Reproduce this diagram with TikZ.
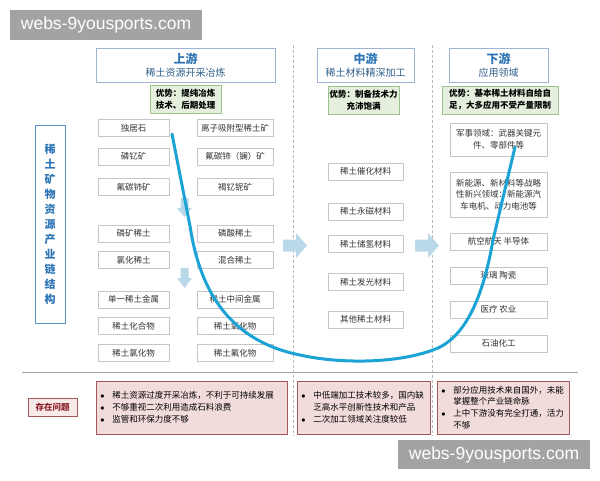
\documentclass[tikz,border=0pt]{standalone}
\usepackage{fontspec}
\setmainfont{Noto Sans CJK SC}
\newfontfamily\wmfont{Liberation Sans}
\usetikzlibrary{positioning}

\definecolor{headline}{HTML}{9DB5D3}
\definecolor{headblue}{HTML}{2E75B6}
\definecolor{subblue}{HTML}{2F5F8A}
\definecolor{advline}{HTML}{9CC28E}
\definecolor{advfill}{HTML}{E4F0DD}
\definecolor{issueline}{HTML}{A5585A}
\definecolor{issuefill}{HTML}{F2DCDB}
\definecolor{issuetext}{HTML}{8B1E2A}
\definecolor{flowblue}{HTML}{B9D8E8}
\definecolor{chainblue}{HTML}{1BA3D6}
\definecolor{wmgray}{HTML}{A3A3A3}

\begin{document}
\begin{tikzpicture}[x=1pt,y=-1pt]
\tikzset{
  item/.style = {draw=gray!45, fill=white, text=black!80, font=\fontsize{8.5}{11.5}\selectfont, minimum height=17pt, inner sep=1pt, align=center},
  head/.style = {draw=headline, fill=white, line width=0.8pt, minimum height=34pt, inner sep=1pt, align=center, font=\fontsize{10}{13}\selectfont, text=subblue},
  adv/.style = {draw=advline, fill=advfill, line width=0.8pt, minimum height=28pt, inner sep=1pt, align=center, font=\bfseries\fontsize{8.5}{12}\selectfont},
  issue/.style = {draw=issueline, fill=issuefill, line width=0.8pt, minimum height=53pt, inner xsep=4pt, inner ysep=1pt, align=left, anchor=west, font=\fontsize{8.5}{11.8}\selectfont},
  flow/.style = {fill=flowblue},
  sep/.style = {draw=gray!55, dash pattern=on 3pt off 2pt, line width=0.6pt},
  chainline/.style = {draw=chainblue, line width=3pt, line cap=round},
  wm/.style = {fill=wmgray, text=white, font=\wmfont\fontsize{17.5}{17.5}\selectfont, inner sep=0pt, minimum width=192pt, minimum height=30pt},
}
\def\colA{133.5}
\def\colB{235}
\def\colM{365.5}
\def\colD{498.5}
\newcommand\bul{\makebox[12pt][l]{$\bullet$}}
\newcommand\ind{\hspace*{12pt}}

\useasboundingbox (0,0) rectangle (600,480);

% separators
\draw[sep] (293,45) -- (293,436);
\draw[sep] (432,45) -- (432,436);
\draw[gray!70, line width=0.9pt] (22,372) -- (578,372);

% headers
\node[head, minimum width=179pt] (up) at (185.5,65) {{\bfseries\fontsize{12}{15}\selectfont\color{headblue}上游}\\稀土资源开采冶炼};
\node[head, minimum width=97pt] (mid) at (365.5,65) {{\bfseries\fontsize{12}{15}\selectfont\color{headblue}中游}\\稀土材料精深加工};
\node[head, minimum width=99pt] (down) at (498.5,65) {{\bfseries\fontsize{12}{15}\selectfont\color{headblue}下游}\\应用领域};

\node[adv, minimum width=71pt] (upadv) at (185.5,99.5) {优势：提纯冶炼\\技术、后期处理};
\node[adv, minimum width=71pt] (midadv) at (363.5,100) {优势：制备技术力\\充沛饱满};
\node[adv, minimum width=116pt] (downadv) at (500,100) {优势：基本稀土材料自给自\\足，大多应用不受产量限制};

% left title
\node[draw=headblue!80, line width=1pt, fill=white, minimum width=30pt, minimum height=198pt, inner sep=0pt,
      align=center, text=headblue, font=\bfseries\fontsize{11}{15}\selectfont] (chain) at (50,224)
  {稀\\土\\矿\\物\\资\\源\\产\\业\\链\\结\\构};

% upstream
\foreach \a/\b/\y [count=\i] in {独居石/离子吸附型稀土矿/128, 磷钇矿/氟碳铈（镧）矿/156.5, 氟碳铈矿/褐钇铌矿/187,
    磷矿稀土/磷酸稀土/233.5, 氯化稀土/混合稀土/260, 单一稀土金属/稀土中间金属/299.5,
    稀土化合物/稀土氧化物/326, 稀土氯化物/稀土氟化物/353}
{
  \node[item, minimum width=71pt] (u\i a) at (\colA,\y) {\a};
  \node[item, minimum width=76pt] (u\i b) at (\colB,\y) {\b};
}
\fill[flow] (180.5,198) -- (188.5,198) -- (188.5,208) -- (192,208) -- (184.5,217) -- (177,208) -- (180.5,208) -- cycle;
\fill[flow] (180.5,268) -- (188.5,268) -- (188.5,278) -- (192,278) -- (184.5,288) -- (177,278) -- (180.5,278) -- cycle;

% midstream
\foreach \t/\y [count=\i] in {稀土催化材料/171.5, 稀土永磁材料/211.5, 稀土储氢材料/244, 稀土发光材料/282, 其他稀土材料/319.5}
  \node[item, minimum width=75pt] (m\i) at (\colM,\y) {\t};
\fill[flow] (283,239.5) -- (296,239.5) -- (296,233) -- (307,245.5) -- (296,258) -- (296,251.5) -- (283,251.5) -- cycle;
\fill[flow] (415,239.5) -- (428,239.5) -- (428,233) -- (439,245.5) -- (428,258) -- (428,251.5) -- (415,251.5) -- cycle;

% downstream
\node[item, minimum width=97pt, minimum height=33pt] (d1) at (\colD,139.5) {军事领域：武器关键元\\件、零部件等};
\node[item, minimum width=97pt, minimum height=45pt] (d2) at (\colD,194.5) {新能源、新材料等战略\\性新兴领域：新能源汽\\车电机、动力电池等};
\node[item, minimum width=97pt] (d3) at (\colD,241.5) {航空航天\ 半导体};
\node[item, minimum width=97pt] (d4) at (\colD,275.5) {玻璃\ 陶瓷};
\node[item, minimum width=97pt] (d5) at (\colD,309.5) {医疗\ 农业};
\node[item, minimum width=97pt] (d6) at (\colD,343.5) {石油化工};

% smile curve
\coordinate (cs) at (172,134);
\coordinate (ce) at (515,147);
\draw[chainline] (cs) -- (190,226) .. controls (199,285) and (225,340) .. (300,355)
  .. controls (340,364) and (400,364) .. (438,348)
  .. controls (468,334) and (484,292) .. (493,240) -- (ce);

% problems
\node[draw=issueline, fill=issuefill!60, line width=0.9pt, minimum width=49pt, minimum height=18pt, inner sep=0pt,
      text=issuetext, font=\bfseries\itshape\fontsize{8.5}{10}\selectfont] (tag) at (52.5,407) {存在问题};
\node[issue, text width=183pt] (pup) at (96,407.5)
  {\bul 稀土资源过度开采冶炼，不利于可持续发展\\\bul 不够重视二次利用造成石料浪费\\\bul 监管和环保力度不够};
\node[issue, text width=125pt] (pmid) at (297,407.5)
  {\bul 中低端加工技术较多，国内缺\\\ind 乏高水平创新性技术和产品\\\bul 二次加工领域关注度较低};
\node[issue, text width=124pt] (pdown) at (437,407.5)
  {\bul 部分应用技术来自国外，未能\\\ind 掌握整个产业链命脉\\\bul 上中下游没有完全打通，活力\\\ind 不够};

% watermarks
\node[wm] (wm1) at (106,25) {webs-9yousports.com};
\node[wm, minimum height=29pt] (wm2) at (494,454.5) {webs-9yousports.com};
\end{tikzpicture}
\end{document}
